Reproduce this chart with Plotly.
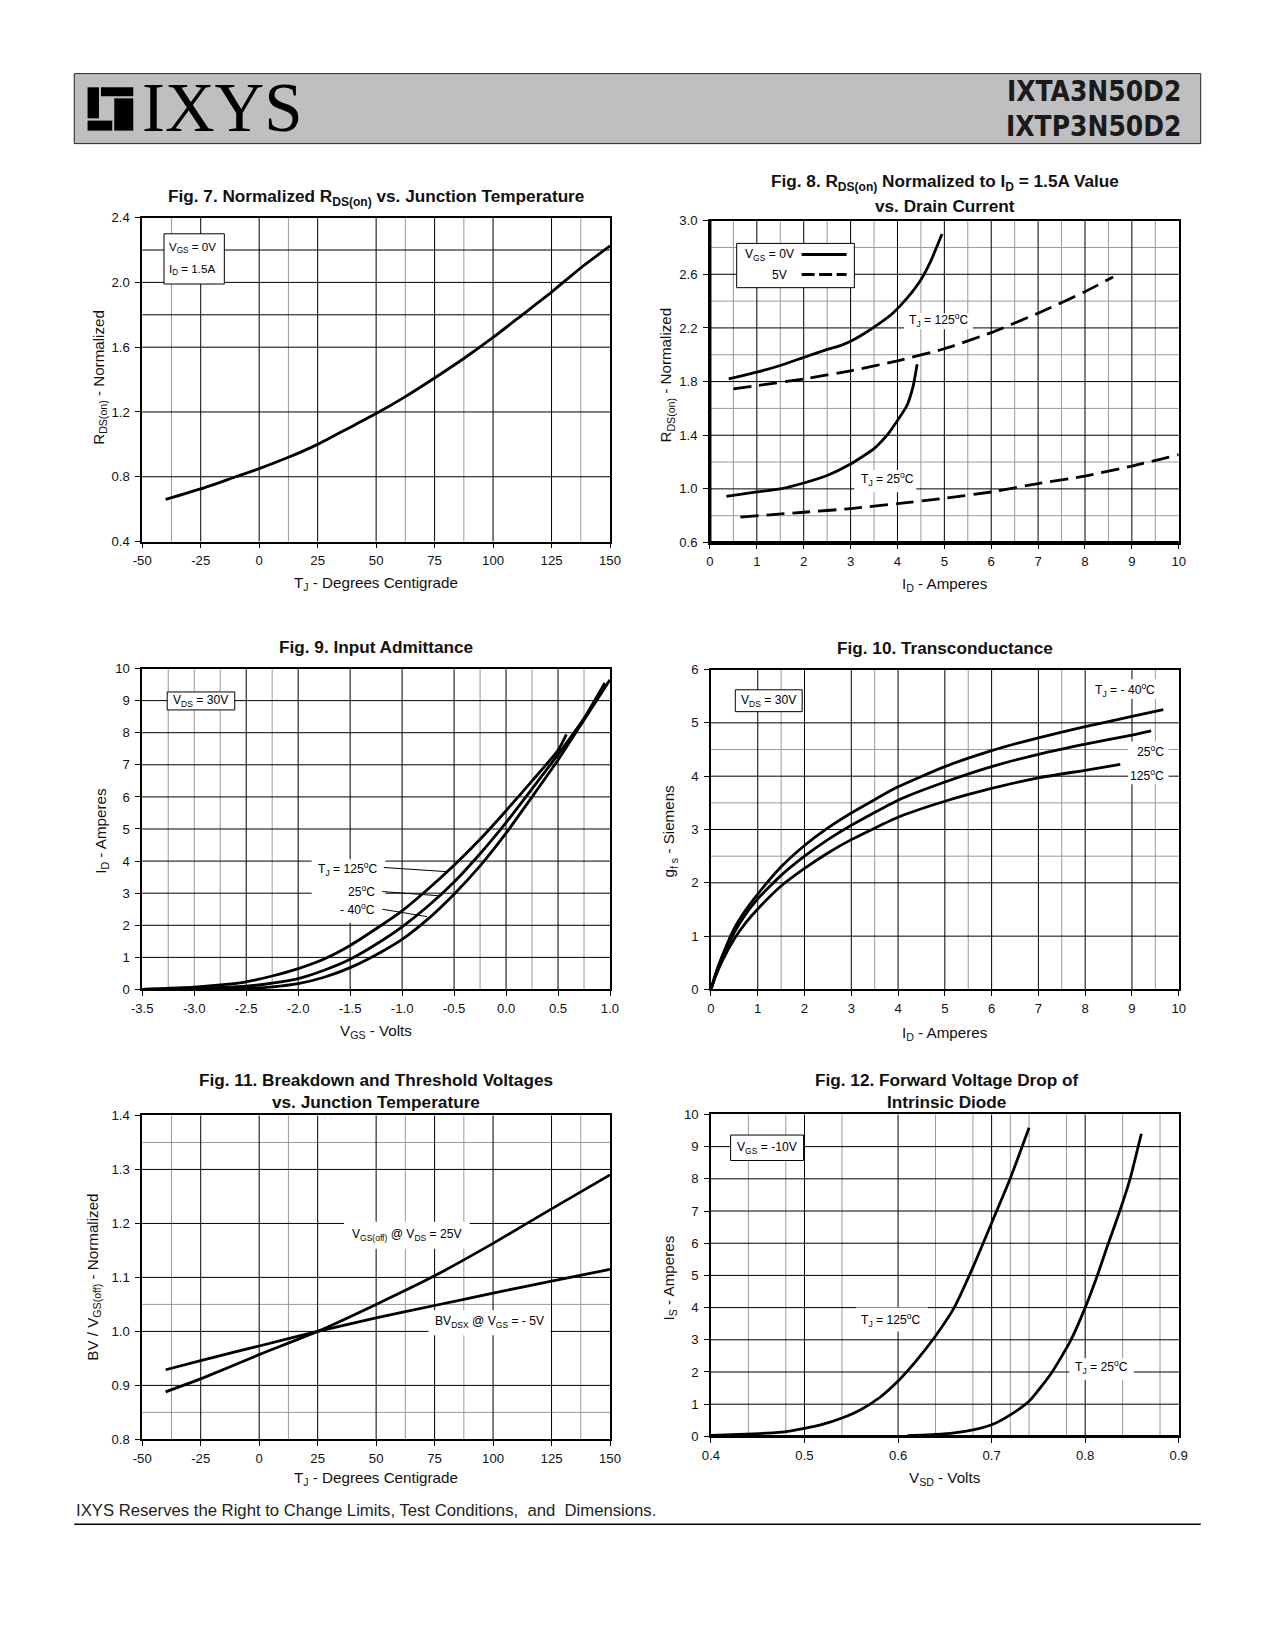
import plotly.graph_objects as go

W, H = 1275, 1650          # page size in the browser
OFF = 8                    # default body margin of the html page
FW, FH = W - 2 * OFF, H - 2 * OFF
SX, SY = 0.983, 0.991      # compensation for the slight shrink seen in the photographed page
FONT = "Liberation Sans, Arial, Helvetica, sans-serif"
NARROW = "Liberation Sans Narrow, Arial Narrow, DejaVu Sans Condensed, sans-serif"
SERIF = "Liberation Serif, Times New Roman, serif"
GRAY = "#9a9a9a"

# ---------------- Fig. 7 : normalized RDS(on) vs TJ ----------------
f7_tj = [-40, -25, -10, 0, 12.5, 25, 37.5, 50, 62.5, 75, 87.5, 100, 112.5, 125, 137.5, 150]
f7_rds = [0.66, 0.725, 0.80, 0.85, 0.92, 1.0, 1.095, 1.19, 1.295, 1.41, 1.53, 1.66, 1.80, 1.94, 2.09, 2.225]
f7_xticks = [-50, -25, 0, 25, 50, 75, 100, 125, 150]
f7_xlabels = ["-50", "-25", "0", "25", "50", "75", "100", "125", "150"]
f7_yticks = [0.4, 0.8, 1.2, 1.6, 2.0, 2.4]
f7_ylabels = ["0.4", "0.8", "1.2", "1.6", "2.0", "2.4"]

# ---------------- Fig. 8 : RDS(on) vs ID ----------------
f8_id_0v_125 = [0.4, 1.0, 1.5, 2.0, 2.5, 2.8, 3.0, 3.3, 3.6, 3.9, 4.2, 4.5, 4.7, 4.95]
f8_r_0v_125 = [1.82, 1.87, 1.92, 1.98, 2.04, 2.07, 2.10, 2.16, 2.23, 2.31, 2.42, 2.56, 2.69, 2.90]
f8_id_5v_125 = [0.5, 1, 2, 3, 4, 5, 6, 7, 8, 8.6]
f8_r_5v_125 = [1.745, 1.77, 1.82, 1.88, 1.955, 2.045, 2.165, 2.31, 2.47, 2.58]
f8_id_0v_25 = [0.35, 1.0, 1.5, 2.0, 2.5, 3.0, 3.5, 3.8, 4.0, 4.2, 4.33, 4.42]
f8_r_0v_25 = [0.945, 0.977, 1.0, 1.044, 1.10, 1.185, 1.30, 1.41, 1.51, 1.62, 1.76, 1.93]
f8_id_5v_25 = [0.65, 2, 3, 4, 5, 6, 7, 8, 9, 10]
f8_r_5v_25 = [0.79, 0.826, 0.853, 0.89, 0.93, 0.977, 1.04, 1.096, 1.17, 1.255]
f8_xticks = list(range(0, 11))
f8_xlabels = [str(v) for v in f8_xticks]
f8_yticks = [0.6, 1.0, 1.4, 1.8, 2.2, 2.6, 3.0]
f8_ylabels = ["0.6", "1.0", "1.4", "1.8", "2.2", "2.6", "3.0"]

# ---------------- Fig. 9 : input admittance ----------------
f9_vgs_125 = [-3.5, -3.0, -2.75, -2.5, -2.25, -2.0, -1.75, -1.5, -1.2, -1.0, -0.75, -0.5, -0.25, 0.0, 0.25, 0.5, 0.58]
f9_id_125 = [0.0, 0.07, 0.14, 0.24, 0.42, 0.65, 0.95, 1.37, 2.0, 2.45, 3.13, 3.87, 4.68, 5.57, 6.5, 7.45, 7.95]
f9_vgs_25 = [-3.5, -3.0, -2.5, -2.25, -2.0, -1.75, -1.5, -1.2, -1.0, -0.75, -0.5, -0.25, 0.0, 0.25, 0.5, 0.75, 0.95]
f9_id_25 = [0.0, 0.03, 0.1, 0.2, 0.34, 0.6, 0.94, 1.51, 1.95, 2.6, 3.35, 4.23, 5.2, 6.25, 7.32, 8.45, 9.55]
f9_vgs_m40 = [-3.0, -2.5, -2.25, -2.0, -1.75, -1.5, -1.2, -1.0, -0.75, -0.5, -0.25, 0.0, 0.25, 0.5, 0.75, 1.0]
f9_id_m40 = [0.0, 0.03, 0.08, 0.18, 0.38, 0.68, 1.17, 1.56, 2.2, 2.97, 3.85, 4.87, 6.0, 7.15, 8.4, 9.65]
f9_xticks = [-3.5, -3.0, -2.5, -2.0, -1.5, -1.0, -0.5, 0.0, 0.5, 1.0]
f9_xlabels = ["-3.5", "-3.0", "-2.5", "-2.0", "-1.5", "-1.0", "-0.5", "0.0", "0.5", "1.0"]
f9_yticks = list(range(0, 11))
f9_ylabels = [str(v) for v in f9_yticks]

# ---------------- Fig. 10 : transconductance ----------------
f10_id_m40 = [0, 0.1, 0.25, 0.5, 0.75, 1, 1.5, 2, 2.5, 3, 4, 5, 6, 7, 8, 9, 9.67]
f10_gfs_m40 = [0, 0.3, 0.65, 1.15, 1.5, 1.79, 2.3, 2.7, 3.03, 3.31, 3.8, 4.18, 4.48, 4.72, 4.93, 5.12, 5.25]
f10_id_25 = [0, 0.1, 0.25, 0.5, 0.75, 1, 1.5, 2, 2.5, 3, 4, 5, 6, 7, 8, 9, 9.41]
f10_gfs_25 = [0, 0.28, 0.6, 1.07, 1.42, 1.70, 2.14, 2.50, 2.81, 3.08, 3.55, 3.89, 4.18, 4.41, 4.60, 4.77, 4.85]
f10_id_125 = [0, 0.1, 0.25, 0.5, 0.75, 1, 1.5, 2, 2.5, 3, 4, 5, 6, 7, 8, 8.75]
f10_gfs_125 = [0, 0.25, 0.55, 0.95, 1.26, 1.51, 1.94, 2.27, 2.56, 2.81, 3.23, 3.53, 3.77, 3.97, 4.11, 4.22]
f10_xticks = list(range(0, 11))
f10_xlabels = [str(v) for v in f10_xticks]
f10_yticks = list(range(0, 7))
f10_ylabels = [str(v) for v in f10_yticks]

# ---------------- Fig. 11 : BV / VGS(off) vs TJ ----------------
f11_tj = [-40, -25, 0, 25, 50, 75, 100, 125, 150]
f11_vgsoff = [0.888, 0.912, 0.957, 1.0, 1.05, 1.103, 1.163, 1.227, 1.29]
f11_bvdsx = [0.929, 0.946, 0.973, 1.0, 1.025, 1.048, 1.071, 1.093, 1.115]
f11_xticks = [-50, -25, 0, 25, 50, 75, 100, 125, 150]
f11_xlabels = ["-50", "-25", "0", "25", "50", "75", "100", "125", "150"]
f11_yticks = [0.8, 0.9, 1.0, 1.1, 1.2, 1.3, 1.4]
f11_ylabels = ["0.8", "0.9", "1.0", "1.1", "1.2", "1.3", "1.4"]

# ---------------- Fig. 12 : diode forward voltage ----------------
f12_vsd_125 = [0.40, 0.43, 0.46, 0.48, 0.50, 0.52, 0.54, 0.56, 0.58, 0.60, 0.62, 0.64, 0.66, 0.68, 0.70, 0.72, 0.74]
f12_is_125 = [0.03, 0.06, 0.10, 0.15, 0.25, 0.38, 0.57, 0.83, 1.2, 1.72, 2.37, 3.12, 4.0, 5.25, 6.63, 8.02, 9.59]
f12_vsd_25 = [0.61, 0.64, 0.66, 0.68, 0.70, 0.72, 0.74, 0.764, 0.784, 0.80, 0.813, 0.823, 0.837, 0.848, 0.86]
f12_is_25 = [0.02, 0.06, 0.11, 0.2, 0.36, 0.67, 1.09, 1.97, 2.95, 4.0, 5.0, 5.85, 7.0, 8.0, 9.4]
f12_xticks = [0.4, 0.5, 0.6, 0.7, 0.8, 0.9]
f12_xlabels = ["0.4", "0.5", "0.6", "0.7", "0.8", "0.9"]
f12_yticks = list(range(0, 11))
f12_ylabels = [str(v) for v in f12_yticks]

# ---------------- grid line positions ----------------
grid = {
    1: dict(xM=[-25, 0, 25, 50, 75, 100, 125], xm=[-37.5, 12.5, 62.5, 87.5, 137.5],
            yM=[0.8, 1.2, 1.6, 1.8, 2.0, 2.2], ym=[]),
    2: dict(xM=[1, 2, 3, 4, 5, 6, 7, 8, 9], xm=[0.5, 1.5, 2.5, 3.5, 4.5, 5.5, 6.5, 7.5, 8.5, 9.5],
            yM=[1.0, 1.4, 1.8, 2.2, 2.6], ym=[0.8, 1.2, 1.6, 2.0, 2.4, 2.8]),
    3: dict(xM=[-2.5, -2.0, -1.5, -1.0, -0.5, 0.0, 0.5], xm=[-3.25, -3.0, -2.75, -2.25, -0.25, 0.25, 0.75],
            yM=[1, 2, 3, 4, 5, 6, 7, 8, 9], ym=[]),
    4: dict(xM=[1, 2, 3, 4, 5, 6, 7, 8, 9], xm=[1.5, 3.5, 5.5, 7.5, 9.5],
            yM=[1, 2, 3, 4, 5], ym=[2.5, 3.5, 4.5]),
    5: dict(xM=[-25, 0, 25, 50, 75, 100, 125], xm=[-37.5, 12.5, 62.5, 87.5, 137.5],
            yM=[0.9, 1.0, 1.1, 1.2, 1.3], ym=[0.85, 1.05, 1.35]),
    6: dict(xM=[0.5, 0.6, 0.7, 0.8], xm=[0.44, 0.48, 0.54, 0.64, 0.68, 0.72, 0.74, 0.78, 0.84, 0.88],
            yM=[1, 2, 3, 4, 5, 6, 7, 8, 9], ym=[]),
}

# panel boxes in page pixels: left, top, right, bottom
boxes = {1: (142, 218, 610, 542), 2: (710, 221, 1179, 543), 3: (142, 669, 610, 990),
         4: (711, 670, 1179, 990), 5: (142, 1116, 610, 1440), 6: (711, 1115, 1179, 1437)}
ranges = {1: ([-50, 150], [0.4, 2.4]), 2: ([0, 10], [0.6, 3.0]), 3: ([-3.5, 1.0], [0, 10]),
          4: ([0, 10], [0, 6]), 5: ([-50, 150], [0.8, 1.4]), 6: ([0.4, 0.9], [0, 10])}
ticks = {1: (f7_xticks, f7_xlabels, f7_yticks, f7_ylabels), 2: (f8_xticks, f8_xlabels, f8_yticks, f8_ylabels),
         3: (f9_xticks, f9_xlabels, f9_yticks, f9_ylabels), 4: (f10_xticks, f10_xlabels, f10_yticks, f10_ylabels),
         5: (f11_xticks, f11_xlabels, f11_yticks, f11_ylabels), 6: (f12_xticks, f12_xlabels, f12_yticks, f12_ylabels)}


def refs(k):
    return ("x" if k == 1 else f"x{k}"), ("y" if k == 1 else f"y{k}")


def PX(x):
    xc = W / 2 + (x - W / 2) / SX
    return (xc - OFF) / FW


def PY(y):
    yc = H / 2 + (y - H / 2) / SY
    return 1 - (yc - OFF) / FH


FS = 1.012  # font compensation


def fs(v):
    return round(v * FS, 2)


fig = go.Figure()


def curve(k, x, y, dash="solid"):
    xa, ya = refs(k)
    fig.add_trace(go.Scatter(x=x, y=y, xaxis=xa, yaxis=ya, mode="lines", hoverinfo="skip",
                             showlegend=False,
                             line=dict(color="black", width=2.8, dash=dash, shape="spline", smoothing=0.5)))


DASH = "18px,8px"
curve(1, f7_tj, f7_rds)
curve(2, f8_id_0v_125, f8_r_0v_125)
curve(2, f8_id_5v_125, f8_r_5v_125, DASH)
curve(2, f8_id_0v_25, f8_r_0v_25)
curve(2, f8_id_5v_25, f8_r_5v_25, DASH)
curve(3, f9_vgs_125, f9_id_125)
curve(3, f9_vgs_25, f9_id_25)
curve(3, f9_vgs_m40, f9_id_m40)
curve(4, f10_id_m40, f10_gfs_m40)
curve(4, f10_id_25, f10_gfs_25)
curve(4, f10_id_125, f10_gfs_125)
curve(5, f11_tj, f11_vgsoff)
curve(5, f11_tj, f11_bvdsx)
curve(6, f12_vsd_125, f12_is_125)
curve(6, f12_vsd_25, f12_is_25)

layout = {}
shapes = []
annotations = []

for k in range(1, 7):
    l, t, r, b = boxes[k]
    xa, ya = refs(k)
    xt, xl, yt, yl = ticks[k]
    common = dict(showgrid=False, zeroline=False, showline=True, mirror=True, linecolor="black",
                  linewidth=1.5, ticks="outside", ticklen=5, tickwidth=1, tickcolor="black",
                  tickmode="array", fixedrange=True,
                  tickfont=dict(family=FONT, size=fs(13), color="#111111"))
    layout["xaxis" if k == 1 else f"xaxis{k}"] = dict(domain=[PX(l), PX(r)], range=ranges[k][0], anchor=ya,
                                                      tickvals=xt, ticktext=xl, ticklabelstandoff=1, **common)
    layout["yaxis" if k == 1 else f"yaxis{k}"] = dict(domain=[PY(b), PY(t)], range=ranges[k][1], anchor=xa,
                                                      tickvals=yt, ticktext=yl, ticklabelstandoff=3, **common)
    g = grid[k]
    for v in g["xm"]:
        shapes.append(dict(type="line", xref=xa, yref=ya + " domain", x0=v, x1=v, y0=0, y1=1,
                           line=dict(color=GRAY, width=1), layer="below"))
    for v in g["ym"]:
        shapes.append(dict(type="line", xref=xa + " domain", yref=ya, x0=0, x1=1, y0=v, y1=v,
                           line=dict(color=GRAY, width=1), layer="below"))
    for v in g["xM"]:
        shapes.append(dict(type="line", xref=xa, yref=ya + " domain", x0=v, x1=v, y0=0, y1=1,
                           line=dict(color="black", width=1), layer="below"))
    for v in g["yM"]:
        shapes.append(dict(type="line", xref=xa + " domain", yref=ya, x0=0, x1=1, y0=v, y1=v,
                           line=dict(color="black", width=1), layer="below"))


def mask(k, x0, x1, y0, y1):
    xa, ya = refs(k)
    shapes.append(dict(type="rect", xref=xa, yref=ya, x0=x0, x1=x1, y0=y0, y1=y1,
                       fillcolor="white", line=dict(width=0), layer="between"))


def framebox(k, x0, x1, y0, y1):
    xa, ya = refs(k)
    shapes.append(dict(type="rect", xref=xa, yref=ya, x0=x0, x1=x1, y0=y0, y1=y1,
                       fillcolor="white", line=dict(color="black", width=1), layer="between"))


def seg(k, x0, y0, x1, y1, width=1, dash="solid"):
    xa, ya = refs(k)
    shapes.append(dict(type="line", xref=xa, yref=ya, x0=x0, y0=y0, x1=x1, y1=y1,
                       line=dict(color="black", width=width, dash=dash), layer="above"))


def txt(k, x, y, s, xanchor="center", size=12):
    xa, ya = refs(k)
    annotations.append(dict(xref=xa, yref=ya, x=x, y=y, text=s, showarrow=False, xanchor=xanchor,
                            yanchor="middle", font=dict(family=FONT, size=fs(size), color="black")))


def ptxt(xp, yp, s, size=15, xanchor="center", family=FONT, angle=0, color="#111111"):
    annotations.append(dict(xref="paper", yref="paper", x=PX(xp), y=PY(yp), text=s, showarrow=False,
                            xanchor=xanchor, yanchor="middle", textangle=angle,
                            font=dict(family=family, size=fs(size), color=color)))


def prect(x0, y0, x1, y1, fill="black", line=None):
    shapes.append(dict(type="rect", xref="paper", yref="paper", x0=PX(x0), x1=PX(x1), y0=PY(y1), y1=PY(y0),
                       fillcolor=fill, line=line or dict(width=0), layer="above"))


def pline(x0, y0, x1, y1, width=1.5):
    shapes.append(dict(type="line", xref="paper", yref="paper", x0=PX(x0), x1=PX(x1), y0=PY(y0), y1=PY(y1),
                       line=dict(color="black", width=width), layer="above"))


# ---- thick frame edges ----
l, t, r, b = boxes[2]
pline(l, t, l, b, 3)
pline(l, b, r, b, 3)
l, t, r, b = boxes[6]
pline(l, b, r, b, 3)

# ---- Fig 7 annotations ----
framebox(1, -40.7, -14.9, 1.99, 2.30)
txt(1, -39.4, 2.217, "V<sub>GS</sub> = 0V", "left", 11.5)
txt(1, -39.4, 2.08, "I<sub>D</sub> = 1.5A", "left", 11.5)

# ---- Fig 8 annotations ----
framebox(2, 0.57, 3.08, 2.50, 2.83)
txt(2, 1.86, 2.747, "V<sub>GS</sub> = 0V", "right", 12)
txt(2, 1.70, 2.598, "5V", "right", 12)
seg(2, 1.955, 2.747, 2.915, 2.747, 3)
seg(2, 1.955, 2.598, 2.915, 2.598, 3, "13px,4.5px")
mask(2, 4.14, 5.61, 2.19, 2.31)
txt(2, 4.88, 2.262, "T<sub>J</sub> = 125<sup>o</sup>C", "center", 12)
mask(2, 3.08, 4.40, 0.975, 1.14)
txt(2, 3.78, 1.07, "T<sub>J</sub> = 25<sup>o</sup>C", "center", 12)

# ---- Fig 9 annotations ----
framebox(3, -3.26, -2.61, 8.71, 9.27)
txt(3, -2.935, 8.99, "V<sub>DS</sub> = 30V", "center", 12)
mask(3, -1.87, -1.16, 2.08, 4.06)
txt(3, -1.225, 3.75, "T<sub>J</sub> = 125<sup>o</sup>C", "right", 12)
txt(3, -1.24, 3.07, "25<sup>o</sup>C", "right", 12)
txt(3, -1.24, 2.50, "- 40<sup>o</sup>C", "right", 12)
seg(3, -1.176, 3.80, -0.563, 3.67)
seg(3, -1.19, 3.05, -0.646, 2.92)
seg(3, -1.19, 2.50, -0.76, 2.27)

# ---- Fig 10 annotations ----
framebox(4, 0.52, 1.95, 5.21, 5.62)
txt(4, 1.235, 5.415, "V<sub>DS</sub> = 30V", "center", 12)
mask(4, 8.10, 9.60, 5.45, 5.82)
txt(4, 8.85, 5.62, "T<sub>J</sub> = - 40<sup>o</sup>C", "center", 12)
mask(4, 8.92, 9.78, 3.85, 4.65)
txt(4, 9.39, 4.48, "25<sup>o</sup>C", "center", 12)
txt(4, 9.33, 4.02, "125<sup>o</sup>C", "center", 12)

# ---- Fig 11 annotations ----
mask(5, 36.3, 90, 1.153, 1.203)
txt(5, 63.5, 1.178, "V<sub>GS(off)</sub> @ V<sub>DS</sub> = 25V", "center", 12)
mask(5, 72.4, 124.6, 0.993, 1.039)
txt(5, 98.5, 1.017, "BV<sub>DSX</sub> @ V<sub>GS</sub> = - 5V", "center", 12)

# ---- Fig 12 annotations ----
framebox(6, 0.421, 0.499, 8.57, 9.36)
txt(6, 0.46, 8.96, "V<sub>GS</sub> = -10V", "center", 12)
mask(6, 0.555, 0.632, 3.26, 4.0)
txt(6, 0.592, 3.62, "T<sub>J</sub> = 125<sup>o</sup>C", "center", 12)
mask(6, 0.783, 0.852, 1.75, 2.43)
txt(6, 0.817, 2.16, "T<sub>J</sub> = 25<sup>o</sup>C", "center", 12)

# ---- titles ----
TS = 17
ptxt(376, 198, "<b>Fig. 7. Normalized R<sub>DS(on)</sub> vs. Junction Temperature</b>", TS)
ptxt(945, 183, "<b>Fig. 8. R<sub>DS(on)</sub> Normalized to I<sub>D</sub> = 1.5A Value</b>", TS)
ptxt(945, 206, "<b>vs. Drain Current</b>", TS)
ptxt(376, 647, "<b>Fig. 9. Input Admittance</b>", TS)
ptxt(945, 648, "<b>Fig. 10. Transconductance</b>", TS)
ptxt(376, 1081, "<b>Fig. 11. Breakdown and Threshold Voltages</b>", TS)
ptxt(376, 1103, "<b>vs. Junction Temperature</b>", TS)
ptxt(947, 1081, "<b>Fig. 12. Forward Voltage Drop of</b>", TS)
ptxt(947, 1103, "<b>Intrinsic Diode</b>", TS)

# ---- axis titles ----
AS = 15
ptxt(376, 584, "T<sub>J</sub> - Degrees Centigrade", AS)
ptxt(945, 585, "I<sub>D</sub> - Amperes", AS)
ptxt(376, 1032, "V<sub>GS</sub> - Volts", AS)
ptxt(945, 1034, "I<sub>D</sub> - Amperes", AS)
ptxt(376, 1479, "T<sub>J</sub> - Degrees Centigrade", AS)
ptxt(945, 1479, "V<sub>SD</sub> - Volts", AS)
ptxt(99, 378, "R<sub>DS(on)</sub> - Normalized", AS, angle=-90)
ptxt(667, 375, "R<sub>DS(on)</sub> - Normalized", AS, angle=-90)
ptxt(101, 831, "I<sub>D</sub> - Amperes", AS, angle=-90)
ptxt(670, 831, "g<sub>f s</sub> - Siemens", AS, angle=-90)
ptxt(93, 1278, "BV / V<sub>GS(off)</sub> - Normalized", AS, angle=-90)
ptxt(669, 1278, "I<sub>S</sub> - Amperes", AS, angle=-90)

# ---- header ----
prect(74, 74, 1201, 144, fill="#bfbfc2", line=dict(color="#222222", width=1))
# logo blocks
prect(87.3, 87.7, 98.7, 118.7)
prect(100.7, 87.7, 133.0, 96.7)
prect(114.0, 98.7, 133.0, 131.0)
prect(87.3, 121.0, 112.0, 131.0)
ptxt(140, 108.5, "IXYS", 68, "left", SERIF, color="black")
ptxt(1183, 92, "<b>IXTA3N50D2</b>", 27.5, "right", NARROW, color="#1a1a1a")
ptxt(1183, 127, "<b>IXTP3N50D2</b>", 27.5, "right", NARROW, color="#1a1a1a")

# ---- footer ----
ptxt(74, 1511, "IXYS Reserves the Right to Change Limits, Test Conditions,\u00a0 and\u00a0 Dimensions.", 16.5, "left",
     color="#222222")
pline(74, 1525, 1201, 1525, 1.5)

layout.update(dict(width=FW, height=FH, margin=dict(l=0, r=0, t=0, b=0), paper_bgcolor="white",
                   plot_bgcolor="white", showlegend=False, shapes=shapes, annotations=annotations,
                   font=dict(family=FONT)))
fig.update_layout(**layout)

fig.write_html("out.html", config={"displayModeBar": False})
